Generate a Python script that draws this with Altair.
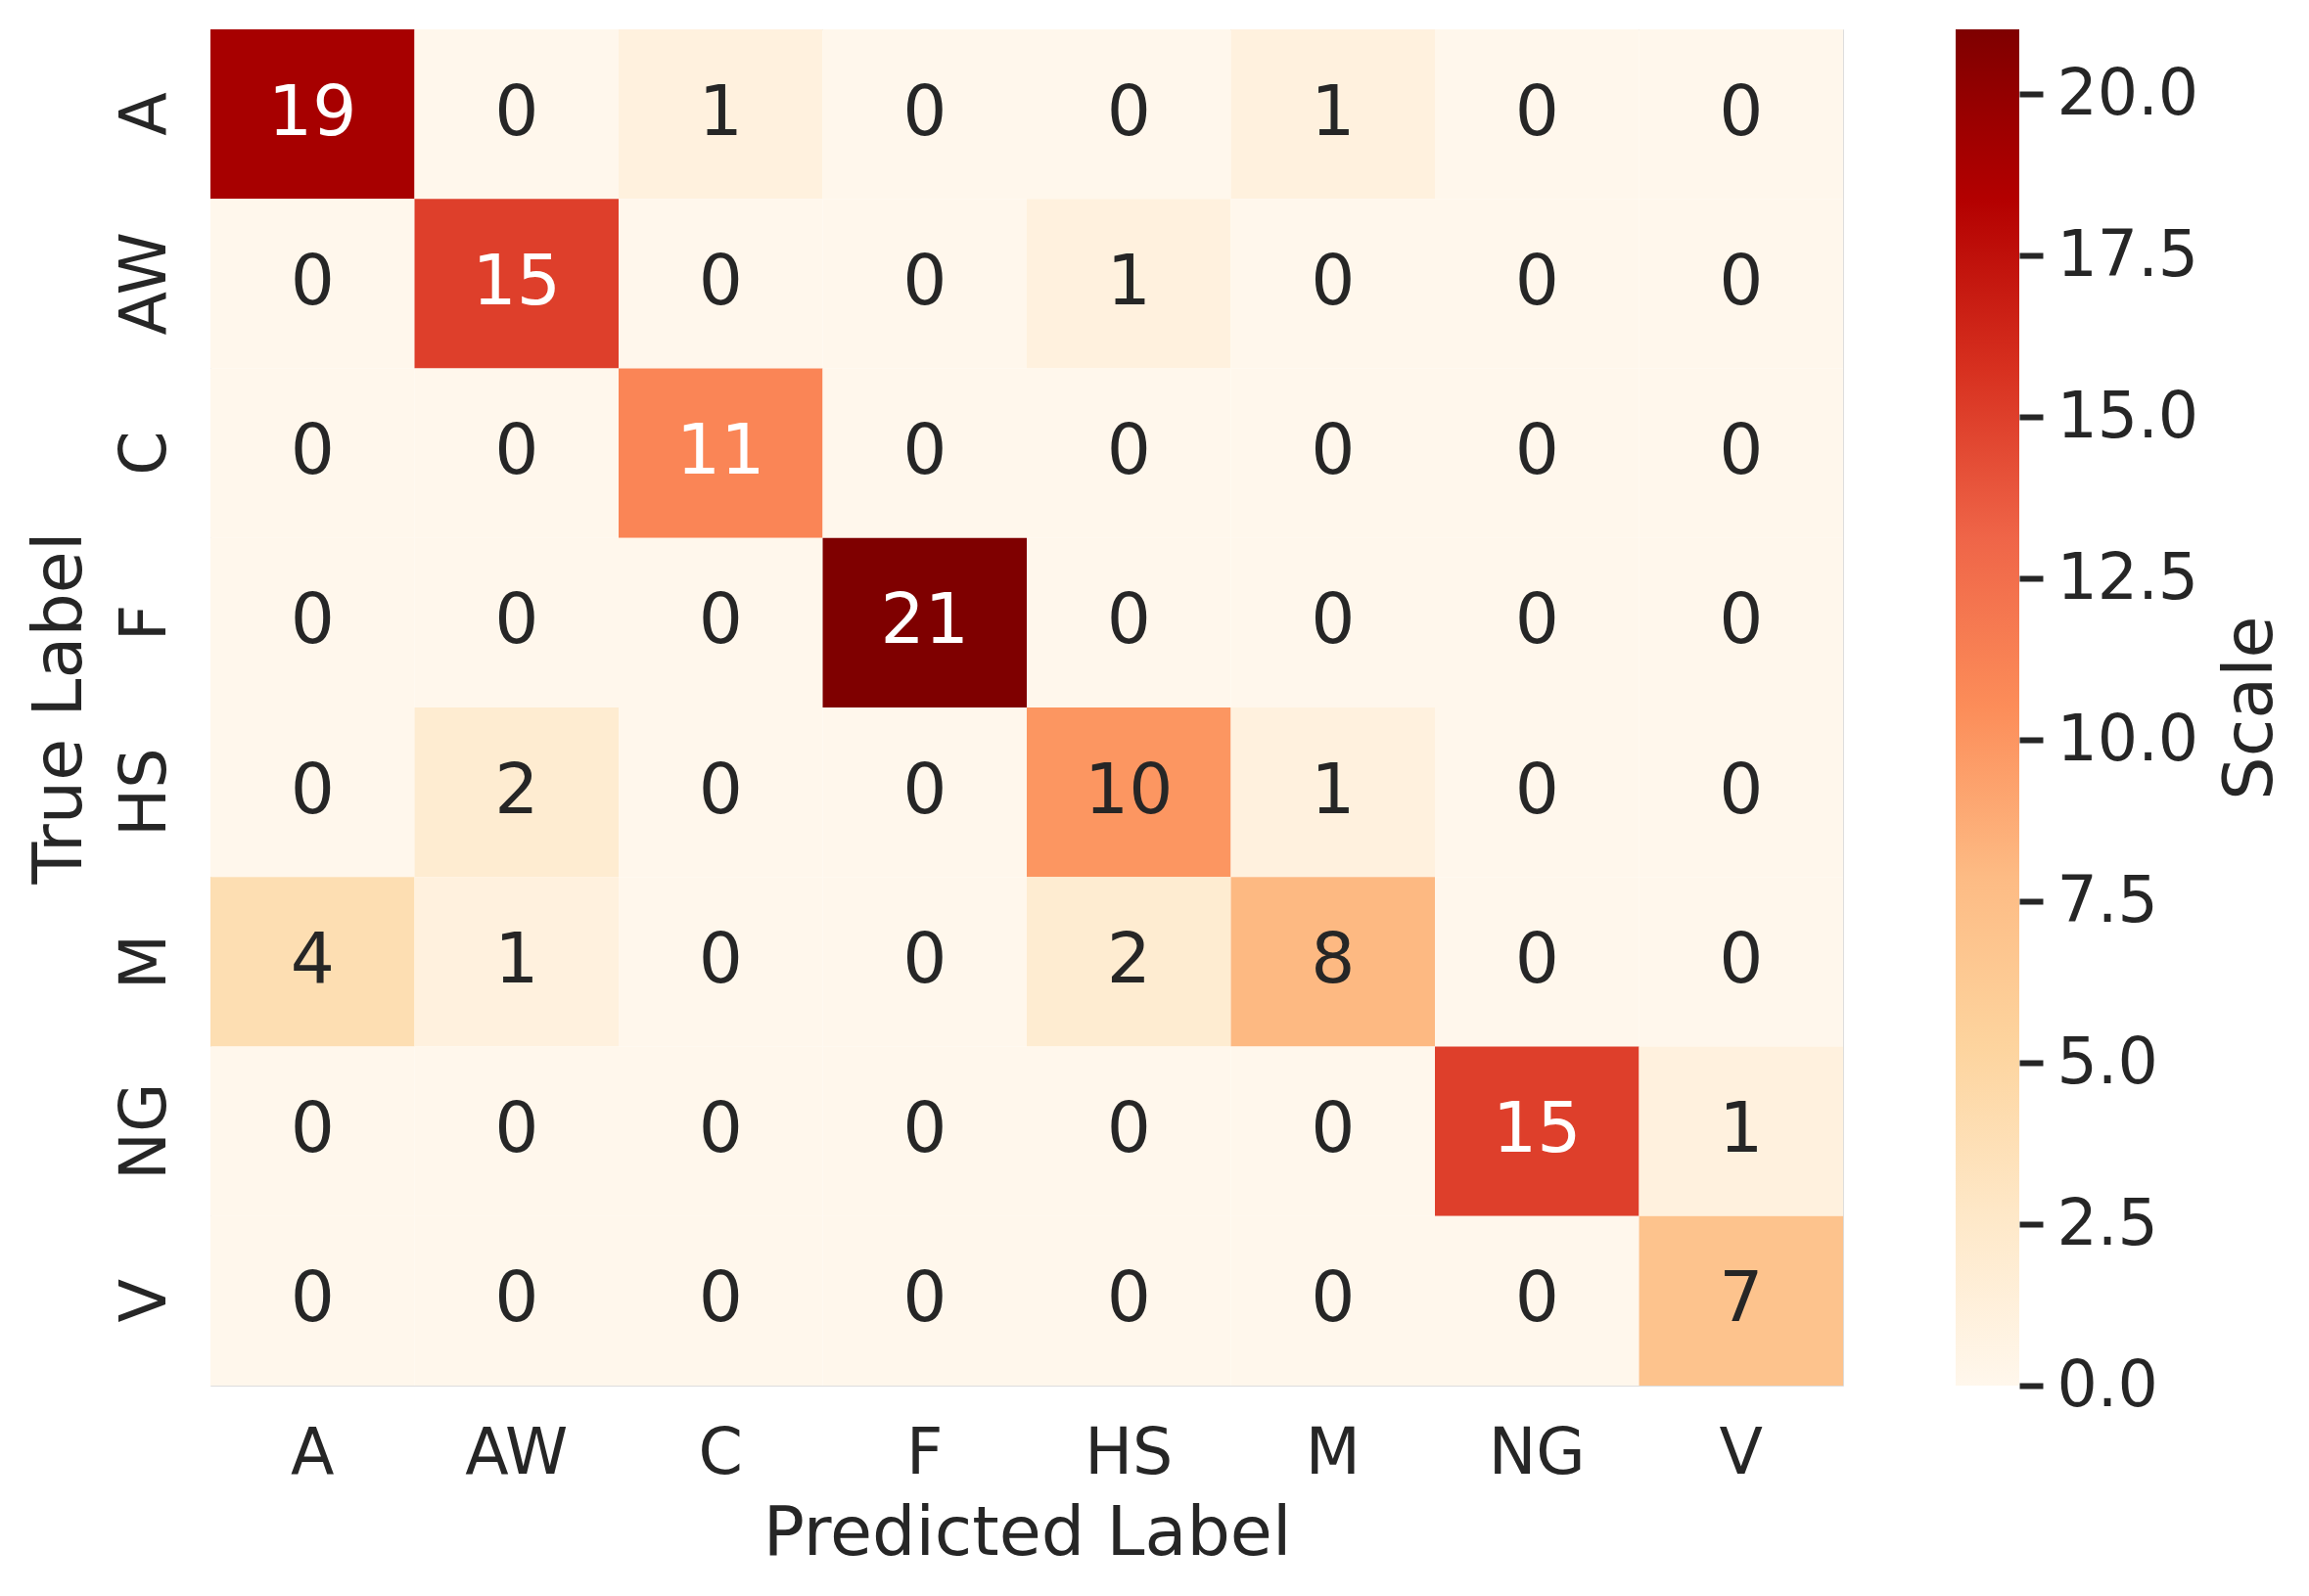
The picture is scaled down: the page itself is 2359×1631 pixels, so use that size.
import altair as alt
import pandas as pd

labels = ["A", "AW", "C", "F", "HS", "M", "NG", "V"]
matrix = [
    [19, 0, 1, 0, 0, 1, 0, 0],
    [0, 15, 0, 0, 1, 0, 0, 0],
    [0, 0, 11, 0, 0, 0, 0, 0],
    [0, 0, 0, 21, 0, 0, 0, 0],
    [0, 2, 0, 0, 10, 1, 0, 0],
    [4, 1, 0, 0, 2, 8, 0, 0],
    [0, 0, 0, 0, 0, 0, 15, 1],
    [0, 0, 0, 0, 0, 0, 0, 7],
]
orrd = ["#fff7ec", "#fee8c8", "#fdd49e", "#fdbb84", "#fc8d59",
        "#ef6548", "#d7301f", "#b30000", "#7f0000"]
vmin, vmax = 0, 21
cbar_ticks = [0, 2.5, 5, 7.5, 10, 12.5, 15, 17.5, 20]

rows = []
for i, t in enumerate(labels):
    for j, p in enumerate(labels):
        rows.append({"true": t, "pred": p, "value": matrix[i][j]})
df = pd.DataFrame(rows)

W, H = 1668, 1386
FONT = "DejaVu Sans"
TXT = "#262626"

stops_dom = [vmin + (vmax - vmin) * k / 8 for k in range(9)]
color_scale = alt.Scale(domain=stops_dom, range=orrd, interpolate="rgb")

base = alt.Chart(df)

x_enc = alt.X("pred:N", sort=labels, title="Predicted Label",
              axis=alt.Axis(orient="bottom", labelAngle=0, domain=False, ticks=False,
                            tickSize=0, labelPadding=38, labelBaseline="top",
                            labelFontSize=65, labelColor=TXT, titleFontSize=70,
                            titleColor=TXT, titleFontWeight="normal",
                            titleBaseline="alphabetic", titleAlign="center",
                            titleX=W / 2, titleY=172))
y_enc = alt.Y("true:N", sort=labels, title="True Label",
              axis=alt.Axis(orient="left", labelAngle=270, domain=False, ticks=False,
                            tickSize=0, labelPadding=47, labelBaseline="alphabetic",
                            labelAlign="center",
                            labelFontSize=65, labelColor=TXT, titleFontSize=70,
                            titleColor=TXT, titleFontWeight="normal",
                            titleAngle=270, titleBaseline="alphabetic",
                            titleAlign="center", titleX=-133, titleY=H / 2))

heat = base.mark_rect().encode(
    x=x_enc,
    y=y_enc,
    color=alt.Color("value:Q", scale=color_scale, legend=None),
)

text = base.mark_text(fontSize=71, baseline="middle", align="center", font=FONT).encode(
    x=alt.X("pred:N", sort=labels),
    y=alt.Y("true:N", sort=labels),
    text=alt.Text("value:Q"),
    color=alt.condition("datum.value >= 11", alt.value("#ffffff"), alt.value(TXT)),
)

grid = alt.layer(heat, text)

grad = alt.Gradient(
    gradient="linear",
    stops=[alt.GradientStop(color=c, offset=k / 8) for k, c in enumerate(orrd)],
    x1=0, x2=0, y1=1, y2=0,
)
cbar_df = pd.DataFrame({"lo": [vmin], "hi": [vmax]})
cbar = alt.Chart(cbar_df).mark_rect(fill=grad).encode(
    x=alt.value(1783),
    x2=alt.value(1848),
    y=alt.Y("lo:Q", scale=alt.Scale(domain=[vmin, vmax], nice=False, zero=False),
            title="Scale",
            axis=alt.Axis(orient="right", offset=180, values=cbar_ticks, format=".1f",
                          domain=False, grid=False, ticks=True, tickSize=24,
                          tickWidth=6, tickColor=TXT, labelPadding=14,
                          labelFontSize=65, labelColor=TXT, labelBaseline="middle",
                          labelAlign="left",
                          titleFontSize=70, titleColor=TXT, titleFontWeight="normal",
                          titleAngle=270, titleBaseline="alphabetic",
                          titleAlign="center", titleX=257, titleY=H / 2)),
    y2="hi:Q",
)

chart = alt.layer(grid, cbar).resolve_scale(y="independent").properties(
    width=W, height=H,
    autosize=alt.AutoSizeParams(type="none"),
    padding={"left": 207, "top": 22, "right": 460, "bottom": 200},
).configure_view(stroke=None).configure(font=FONT)

chart.save("out.html", embed_options={"renderer": "svg", "actions": False})
